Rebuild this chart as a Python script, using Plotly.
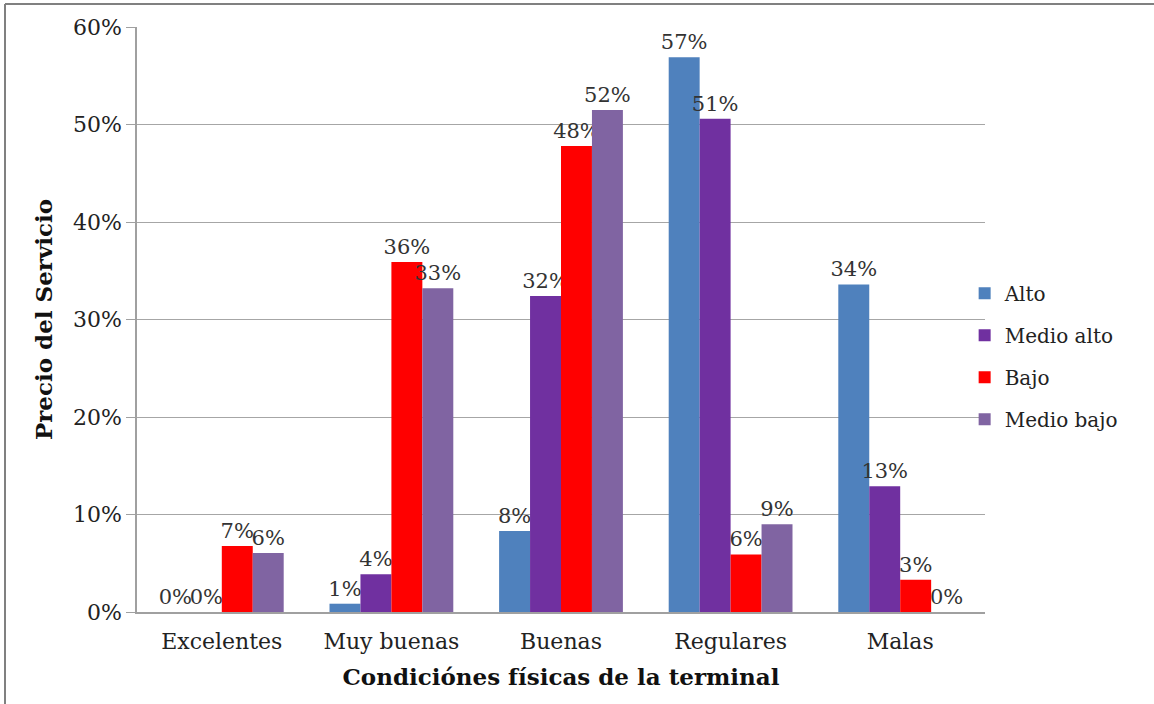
import plotly.graph_objects as go

categories = ["Excelentes", "Muy buenas", "Buenas", "Regulares", "Malas"]
series_names = ["Alto", "Medio alto", "Bajo", "Medio bajo"]
alto = [0.0, 0.0085, 0.083, 0.569, 0.336]
medio_alto = [0.0, 0.0388, 0.324, 0.506, 0.129]
bajo = [0.0677, 0.359, 0.478, 0.059, 0.033]
medio_bajo = [0.0605, 0.332, 0.515, 0.090, 0.0]
colors = ["#4F81BD", "#7030A0", "#FF0000", "#8064A2"]
tick_vals = [0, 0.1, 0.2, 0.3, 0.4, 0.5, 0.6]
tick_text = ["0%", "10%", "20%", "30%", "40%", "50%", "60%"]

W, H = 1154, 704
L, R, T, B = 137, 169, 27, 92

fig = go.Figure()
for name, vals, col in zip(series_names, [alto, medio_alto, bajo, medio_bajo], colors):
    fig.add_trace(go.Bar(
        x=categories, y=vals, name=name, marker_color=col, marker_line_width=0,
        text=[f"{round(v*100):.0f}%" for v in vals], textposition="outside",
        textfont=dict(family="DejaVu Serif", size=21, color="#333333"),
        constraintext="none", cliponaxis=False, legendgroup=name,
    ))

fig.update_layout(
    width=W, height=H,
    margin=dict(l=L, r=R, t=T, b=B, pad=0),
    paper_bgcolor="white", plot_bgcolor="white",
    barmode="group", bargap=0.27, bargroupgap=0,
    font=dict(family="DejaVu Serif", size=20, color="#222222"),
    legend=dict(x=0.976, xanchor="left", y=0.437, yanchor="middle",
                font=dict(family="DejaVu Serif", size=20, color="#222222"),
                tracegroupgap=13, bgcolor="rgba(0,0,0,0)"),
    xaxis=dict(showline=True, linecolor="#A0A0A0", linewidth=1.5, ticks="",
               ticklabelstandoff=9,
               tickfont=dict(family="DejaVu Serif", size=22, color="#222222"),
               title=dict(text="<b>Condiciónes físicas de la terminal</b>",
                          font=dict(family="DejaVu Serif", size=23, color="#111111"), standoff=16)),
    yaxis=dict(range=[0, 0.6], tickvals=tick_vals, ticktext=tick_text,
               showgrid=True, gridcolor="#A6A6A6", gridwidth=1,
               showline=True, linecolor="#A0A0A0", linewidth=1.5,
               ticks="outside", ticklen=9, tickcolor="#A0A0A0",
               tickfont=dict(family="DejaVu Serif", size=22, color="#222222"),
               title=dict(text="<b>Precio del Servicio</b>",
                          font=dict(family="DejaVu Serif", size=23, color="#111111"), standoff=14)),
    shapes=[
        dict(type="line", xref="paper", yref="paper",
             x0=(5 - L) / (W - L - R), x1=(1154 - L) / (W - L - R),
             y0=(H - B - 4) / (H - T - B), y1=(H - B - 4) / (H - T - B),
             line=dict(color="#808080", width=2)),
        dict(type="line", xref="paper", yref="paper",
             x0=(5 - L) / (W - L - R), x1=(5 - L) / (W - L - R),
             y0=(H - B - 4) / (H - T - B), y1=(H - B - 704) / (H - T - B),
             line=dict(color="#808080", width=2)),
    ],
)

fig.write_html("out.html")
